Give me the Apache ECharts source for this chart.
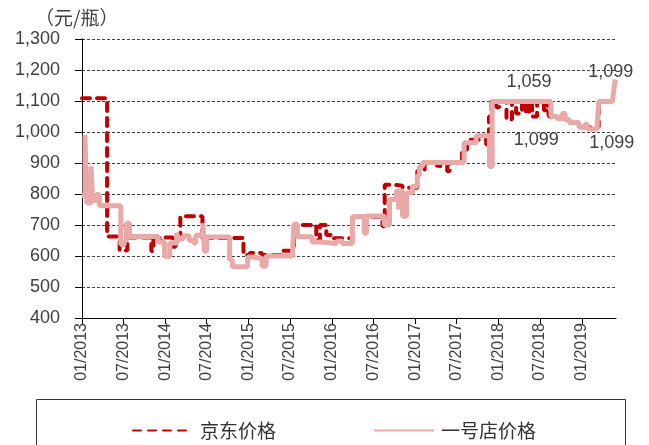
<!DOCTYPE html>
<html>
<head>
<meta charset="utf-8">
<script src="https://cdn.jsdelivr.net/npm/echarts@6/dist/echarts.min.js"></script>
<style>
  html, body { margin: 0; padding: 0; background: #fff; }
  #chart { width: 649px; height: 445px; }
</style>
</head>
<body>
<div id="chart"></div>
<script>
// 价格序列（阶梯，值保持到下一个日期）
const jdDates = [
  '2013-01-01', '2013-04-21', '2013-06-05', '2013-06-15', '2013-07-19', '2013-11-01', '2013-11-10',
  '2013-12-07', '2013-12-20', '2014-02-03', '2014-02-15', '2014-03-08', '2014-06-13', '2014-06-25',
  '2014-12-10', '2015-01-06', '2015-03-01', '2015-05-24', '2015-07-19', '2015-10-25', '2015-11-10',
  '2015-12-08', '2016-01-04', '2016-03-31', '2016-08-10', '2016-08-20', '2016-10-01', '2016-11-06',
  '2016-12-19', '2016-12-25', '2017-01-10', '2017-02-11', '2017-04-07', '2017-04-20', '2017-05-21',
  '2017-06-01', '2017-07-25', '2017-08-16', '2017-11-08', '2017-11-20', '2017-12-01', '2017-12-22',
  '2018-01-04', '2018-02-05', '2018-03-01', '2018-03-19', '2018-04-14', '2018-05-01', '2018-05-15',
  '2018-05-28', '2018-06-19', '2018-07-19', '2018-08-02', '2018-08-10', '2018-09-02', '2018-10-07',
  '2018-11-07', '2018-12-20', '2019-03-16', '2019-05-28'
];
const jdPrices = [
  1109, 663, 658, 618, 660, 615, 660,
  645, 660, 630, 660, 728, 650, 658,
  603, 610, 603, 617, 700, 651, 700,
  668, 657, 727, 696, 830, 827, 820,
  800, 820, 875, 902, 884, 902, 873,
  902, 943, 975, 960, 1050, 1100, 1080,
  1100, 1040, 1100, 1060, 1100, 1060, 1100,
  1050, 1100, 1070, 1100, 1050, 1045, 1040,
  1030, 1015, 1099, 1099
];

const yhdDates = [
  '2013-01-01', '2013-01-14', '2013-01-22', '2013-02-10', '2013-02-16', '2013-03-05', '2013-03-18',
  '2013-06-20', '2013-07-05', '2013-07-15', '2013-07-28', '2013-12-01', '2013-12-29', '2014-01-21',
  '2014-02-20', '2014-02-28', '2014-03-20', '2014-04-16', '2014-05-05', '2014-05-15', '2014-06-15',
  '2014-06-22', '2014-07-01', '2014-10-10', '2014-10-22', '2014-12-28', '2015-01-19', '2015-03-01',
  '2015-03-19', '2015-07-12', '2015-07-19', '2015-08-03', '2015-10-07', '2015-11-16', '2016-01-22',
  '2016-02-17', '2016-03-31', '2016-05-22', '2016-06-01', '2016-08-18', '2016-09-10', '2016-10-10',
  '2016-10-20', '2016-10-28', '2016-11-06', '2016-11-24', '2016-12-19', '2017-01-10', '2017-01-19',
  '2017-02-03', '2017-08-03', '2017-09-25', '2017-11-22', '2017-12-04', '2018-08-19', '2018-09-15',
  '2018-10-07', '2018-10-20', '2018-11-07', '2018-12-20', '2019-01-15', '2019-01-25', '2019-03-10',
  '2019-03-16', '2019-05-15', '2019-05-22', '2019-05-28'
];
const yhdPrices = [
  795, 990, 771, 889, 780, 798, 762,
  637, 650, 706, 663, 645, 599, 642,
  674, 655, 665, 650, 642, 667, 706,
  615, 661, 588, 565, 597, 592, 567,
  600, 605, 703, 662, 645, 640, 648,
  640, 727, 673, 729, 700, 782, 810,
  750, 810, 728, 803, 825, 860, 889,
  902, 965, 988, 889, 1098, 1050, 1043,
  1060, 1040, 1030, 1015, 1025, 1010, 1030,
  1098, 1100, 1140, 1170
];

const tickDates = [
  '2013-01-01', '2013-07-01', '2014-01-01', '2014-07-01', '2015-01-01', '2015-07-01', '2016-01-01',
  '2016-07-01', '2017-01-01', '2017-07-01', '2018-01-01', '2018-07-01', '2019-01-01'
];

// 图中标注（位置以数据坐标给出）
const noteDates = ['2018-05-15', '2018-06-15', '2019-05-08', '2019-05-12'];
const noteValues = [1161, 974, 1194, 965];
const noteTexts = ['1,059', '1,099', '1,099', '1,099'];

const seriesNames = ['京东价格', '一号店价格'];

const latin = "'Liberation Sans Narrow', 'Arial Narrow', 'Liberation Sans', sans-serif";
const cjk = "'Noto Sans CJK SC', sans-serif";

const chart = echarts.init(document.getElementById('chart'));

const tickStamps = tickDates.map((d) => +new Date(d));

const option = {
  animation: false,
  title: {
    text: '（元/瓶）',
    left: 30,
    top: 3,
    textStyle: { fontFamily: cjk, fontSize: 19, fontWeight: 'normal', color: '#404040' }
  },
  grid: { left: 82, right: 33, top: 39, bottom: 127 },
  legend: {
    left: 132,
    top: 421,
    padding: 0,
    itemGap: 97,
    itemWidth: 60,
    itemHeight: 14,
    itemStyle: { opacity: 0 },
    textStyle: { fontFamily: cjk, fontSize: 19, color: '#333', padding: [0, 0, 0, 2] },
    data: seriesNames
  },
  graphic: [{
    type: 'rect',
    shape: { x: 36.5, y: 399.5, width: 589, height: 60 },
    style: { fill: 'none', stroke: '#333', lineWidth: 1 },
    silent: true
  }],
  xAxis: {
    type: 'time',
    min: '2013-01-01',
    max: '2019-05-31',
    axisLine: { lineStyle: { color: '#000', width: 1 } },
    axisTick: {
      show: true,
      length: 6,
      customValues: tickStamps,
      lineStyle: { color: '#000' }
    },
    axisLabel: {
      rotate: 90,
      margin: 5,
      customValues: tickStamps,
      formatter: '{MM}/{yyyy}',
      fontFamily: latin,
      fontSize: 16,
      color: '#404040'
    },
    splitLine: { show: false }
  },
  yAxis: {
    type: 'value',
    min: 400,
    max: 1300,
    interval: 100,
    axisLine: { show: true, lineStyle: { color: '#000', width: 1 } },
    axisTick: { show: true, length: 7, lineStyle: { color: '#000' } },
    axisLabel: {
      margin: 22,
      fontFamily: latin,
      fontSize: 18,
      color: '#404040',
      formatter: (v) => v.toLocaleString('en-US')
    },
    splitLine: { lineStyle: { color: '#404040', type: [3, 2], width: 1 } }
  },
  series: [
    {
      name: seriesNames[0],
      type: 'line',
      step: 'end',
      symbol: 'none',
      data: jdDates.map((d, i) => [d, jdPrices[i]]),
      lineStyle: { color: '#C00000', width: 4, type: [8, 7], cap: 'round' },
      itemStyle: { color: '#C00000' },
      z: 2
    },
    {
      name: seriesNames[1],
      type: 'line',
      step: 'end',
      symbol: 'none',
      data: yhdDates.map((d, i) => [d, yhdPrices[i]]),
      lineStyle: { color: '#E9A9A9', width: 5 },
      itemStyle: { color: '#E9A9A9' },
      z: 3,
      markPoint: {
        symbol: 'circle',
        symbolSize: 1,
        itemStyle: { color: 'rgba(0,0,0,0)' },
        label: {
          show: true,
          position: 'inside',
          fontFamily: latin,
          fontSize: 18,
          color: '#404040',
          formatter: (p) => p.data.text
        },
        data: noteDates.map((d, i) => ({ coord: [d, noteValues[i]], text: noteTexts[i] }))
      }
    }
  ]
};

chart.setOption(option);
</script>
</body>
</html>
